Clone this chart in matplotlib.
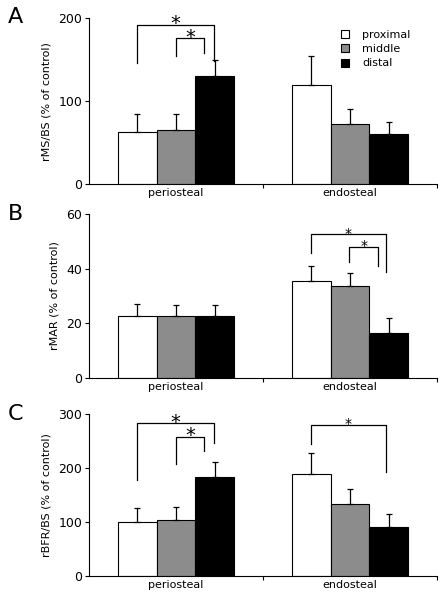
import numpy as np
import matplotlib.pyplot as plt
from matplotlib.lines import Line2D

# ------------------------------------------------------------------ #
#  Daten                                                              #
# ------------------------------------------------------------------ #
groups = ["periosteal", "endosteal"]
series = ["proximal", "middle", "distal"]
colors = ["white", "#8c8c8c", "black"]

# Panel A: rMS/BS
rms_mean = {"proximal": [63, 120], "middle": [65, 72], "distal": [130, 60]}
rms_err = {"proximal": [21, 34], "middle": [19, 18.6], "distal": [20, 15]}

# Panel B: rMAR
rmar_mean = {"proximal": [22.5, 35.6], "middle": [22.5, 33.6], "distal": [22.5, 16.5]}
rmar_err = {"proximal": [4.5, 5.3], "middle": [4.1, 4.7], "distal": [4.1, 5.4]}

# Panel C: rBFR/BS
rbfr_mean = {"proximal": [99.6, 189], "middle": [103, 133], "distal": [183, 90]}
rbfr_err = {"proximal": [26, 40], "middle": [24.5, 29], "distal": [28, 25]}

# Signifikanz-Klammern: (x links, x rechts, y oben, Fuß links, Fuß rechts, groß?)
sig_A = [(-0.223, 0.22, 192, 146, 148, True),
         (0.0, 0.16, 176, 154, 158, True)]
sig_B = [(0.777, 1.207, 52.6, 45.7, 38.9, False),
         (0.995, 1.163, 47.9, 42.6, 41.0, False)]
sig_C = [(-0.223, 0.22, 283, 178, 247.5, True),
         (0.0, 0.16, 258.5, 208, 232.5, True),
         (0.777, 1.207, 280, 245, 193.5, False)]

panels = [
    ("A", "rMS/BS (% of control)", rms_mean, rms_err, 200, [0, 100, 200], sig_A),
    ("B", "rMAR (% of control)", rmar_mean, rmar_err, 60, [0, 20, 40, 60], sig_B),
    ("C", "rBFR/BS (% of control)", rbfr_mean, rbfr_err, 300, [0, 100, 200, 300], sig_C),
]

# Achsenpositionen in Figurkoordinaten [links, unten, breite, höhe]
positions = [
    [0.1996, 0.693, 0.780, 0.2767],
    [0.1996, 0.3705, 0.780, 0.2723],
    [0.1996, 0.040, 0.780, 0.2695],
]
# Grundlinie der Panel-Buchstaben
letter_y = [0.962, 0.633, 0.300]

bar_w = 0.223
x = np.arange(len(groups))

fig = plt.figure(figsize=(4.46, 6.0), dpi=100)
plt.rcParams["font.family"] = "DejaVu Sans"

for (letter, ylabel, means, errs, ymax, yticks, sigs), pos, ly in zip(
        panels, positions, letter_y):
    ax = fig.add_axes(pos)

    for i, (s, c) in enumerate(zip(series, colors)):
        xs = x + (i - 1) * bar_w
        ax.bar(xs, means[s], width=bar_w, color=c, edgecolor="black",
               linewidth=0.8, zorder=2)
        ax.errorbar(xs, means[s], yerr=[np.zeros(len(groups)), errs[s]],
                    fmt="none", ecolor="black", elinewidth=0.9,
                    capsize=2.5, capthick=0.9, zorder=3)

    # Klammern + Sterne
    for x1, x2, yt, yl, yr, big in sigs:
        ax.plot([x1, x1, x2, x2], [yl, yt, yt, yr], color="black",
                lw=0.9, zorder=4, clip_on=False)
        ax.text((x1 + x2) / 2, yt + ymax * 0.005, "*",
                fontsize=14 if big else 10, ha="center", va="center",
                clip_on=False)

    ax.set_xlim(-0.5, 1.5)
    ax.set_ylim(0, ymax)
    ax.set_yticks(yticks)
    ax.set_xticks(x)
    ax.set_xticklabels(groups, fontsize=8)
    ax.set_xticks([0.5, 1.5], minor=True)
    ax.tick_params(axis="x", which="major", length=0, pad=3)
    ax.tick_params(axis="x", which="minor", length=3, width=0.8)
    ax.tick_params(axis="y", length=3, width=0.8, labelsize=9, pad=2)
    ax.set_ylabel(ylabel, fontsize=8, labelpad=5)

    for side in ["top", "right"]:
        ax.spines[side].set_visible(False)
    for side in ["left", "bottom"]:
        ax.spines[side].set_linewidth(0.8)

    fig.text(0.018, ly, letter, fontsize=16, ha="left", va="baseline")

    if letter == "A":
        handles = [Line2D([], [], marker="s", ls="none", markersize=6,
                          markerfacecolor=c, markeredgecolor="black",
                          markeredgewidth=0.8)
                   for c in colors]
        ax.legend(handles, series, loc="upper left",
                  bbox_to_anchor=(0.721, 0.93), frameon=False, fontsize=8,
                  handletextpad=1.0, labelspacing=0.39, handlelength=1.0,
                  borderaxespad=0, borderpad=0)

fig.savefig("out.png", dpi=100)
